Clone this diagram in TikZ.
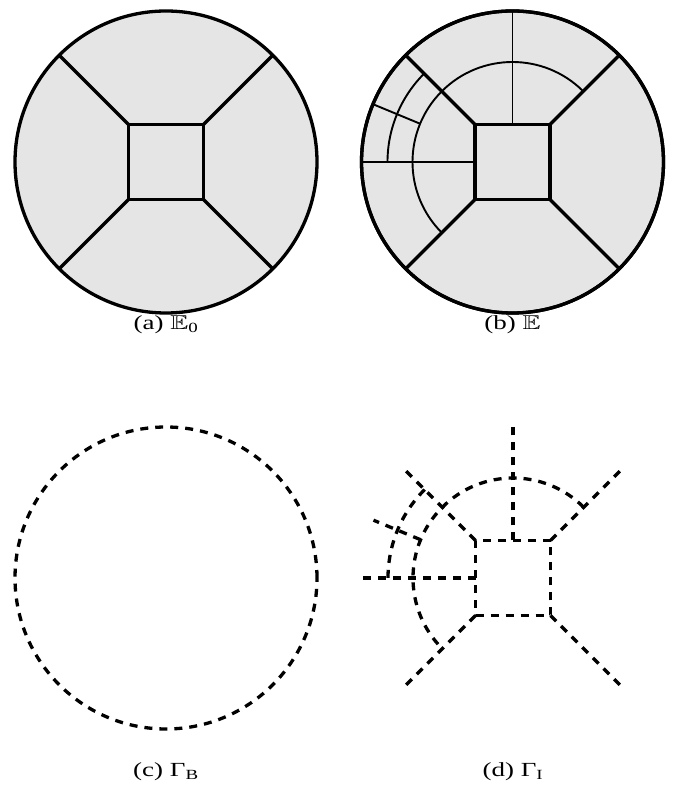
\documentclass[tikz,border=0pt]{standalone}
\usepackage{amssymb}
\usepackage{graphicx}
\usepackage{fontspec}
\setmainfont{Liberation Serif}
\newcommand{\capwide}[1]{\scalebox{1.35}[1]{#1}}
\begin{document}
\begin{tikzpicture}[x=1pt,y=1pt,
  thickline/.style={line width=3.3pt,line join=miter},
  thinline/.style={line width=1.9pt},
  dashline/.style={line width=3.3pt,dash pattern=on 8pt off 7pt},
  caption/.style={font=\fontsize{20}{22}\selectfont,anchor=center},
  region/.style={fill=gray!20}]
\useasboundingbox (0,0) rectangle (672,787);

% ---------- (a) ----------
\begin{scope}[shift={(166,625)}]
  \draw[thickline,region] (0,0) circle (151);
  \coordinate (a-ne) at (37.5,37.5);
  \coordinate (a-nw) at (-37.5,37.5);
  \coordinate (a-sw) at (-37.5,-37.5);
  \coordinate (a-se) at (37.5,-37.5);
  \coordinate (a-o1) at (45:151);
  \coordinate (a-o2) at (135:151);
  \coordinate (a-o3) at (225:151);
  \coordinate (a-o4) at (315:151);
  \draw[thickline] (a-ne) -- (a-nw) -- (a-sw) -- (a-se) -- cycle;
  \draw[thickline] (a-ne) -- (a-o1);
  \draw[thickline] (a-nw) -- (a-o2);
  \draw[thickline] (a-sw) -- (a-o3);
  \draw[thickline] (a-se) -- (a-o4);
\end{scope}
\node[caption] (capa) at (166,462) {\capwide{(a) $\mathbb{E}$\textsubscript{0}}};

% ---------- (b) ----------
\begin{scope}[shift={(512.5,625)}]
  \draw[thickline,region] (0,0) circle (151);
  \coordinate (b-ne) at (37.5,37.5);
  \coordinate (b-nw) at (-37.5,37.5);
  \coordinate (b-sw) at (-37.5,-37.5);
  \coordinate (b-se) at (37.5,-37.5);
  \coordinate (b-n) at (0,37.5);
  \coordinate (b-w) at (-37.5,0);
  \coordinate (b-o1) at (45:151);
  \coordinate (b-o2) at (135:151);
  \coordinate (b-o3) at (225:151);
  \coordinate (b-o4) at (315:151);
  \coordinate (b-on) at (90:151);
  \coordinate (b-ow) at (180:151);
  \coordinate (b-r1) at (157.5:100);
  \coordinate (b-r2) at (157.5:151);
  \draw[thinline] (b-n) -- (b-on);
  \draw[thinline] (b-w) -- (b-ow);
  \draw[thinline] (45:100) arc[start angle=45,end angle=225,radius=100];
  \draw[thinline] (135:125) arc[start angle=135,end angle=180,radius=125];
  \draw[thinline] (b-r1) -- (b-r2);
  \draw[thickline] (b-ne) -- (b-nw) -- (b-sw) -- (b-se) -- cycle;
  \draw[thickline] (b-ne) -- (b-o1);
  \draw[thickline] (b-nw) -- (b-o2);
  \draw[thickline] (b-sw) -- (b-o3);
  \draw[thickline] (b-se) -- (b-o4);
  \draw[thickline] (0,0) circle (151);
\end{scope}
\node[caption] (capb) at (512.5,462) {\capwide{(b) $\mathbb{E}$}};

% ---------- (c) ----------
\begin{scope}[shift={(166,209)}]
  \draw[dashline] (0,0) circle (151);
\end{scope}
\node[caption] (capc) at (166,15) {\capwide{(c) Γ\textsubscript{B}}};

% ---------- (d) ----------
\begin{scope}[shift={(513,209)}]
  \coordinate (d-ne) at (37.5,37.5);
  \coordinate (d-nw) at (-37.5,37.5);
  \coordinate (d-sw) at (-37.5,-37.5);
  \coordinate (d-se) at (37.5,-37.5);
  \coordinate (d-n) at (0,37.5);
  \coordinate (d-w) at (-37.5,0);
  \coordinate (d-o1) at (45:151);
  \coordinate (d-o2) at (135:151);
  \coordinate (d-o3) at (225:151);
  \coordinate (d-o4) at (315:151);
  \coordinate (d-on) at (90:151);
  \coordinate (d-ow) at (180:151);
  \coordinate (d-r1) at (157.5:100);
  \coordinate (d-r2) at (157.5:151);
  \draw[dashline] (d-ne) -- (d-nw) -- (d-sw) -- (d-se) -- cycle;
  \draw[dashline] (d-ne) -- (d-o1);
  \draw[dashline] (d-nw) -- (d-o2);
  \draw[dashline] (d-sw) -- (d-o3);
  \draw[dashline] (d-se) -- (d-o4);
  \draw[dashline] (d-n) -- (d-on);
  \draw[dashline] (d-w) -- (d-ow);
  \draw[dashline] (45:100) arc[start angle=45,end angle=225,radius=100];
  \draw[dashline] (135:125) arc[start angle=135,end angle=180,radius=125];
  \draw[dashline] (d-r1) -- (d-r2);
\end{scope}
\node[caption] (capd) at (513,15) {\capwide{(d) Γ\textsubscript{I}}};
\end{tikzpicture}
\end{document}
